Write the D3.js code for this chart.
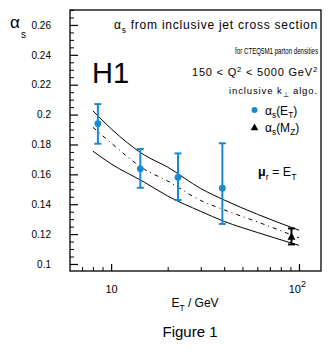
<!DOCTYPE html>
<html>
<head>
  <script src="https://d3js.org/d3.v7.min.js"></script>
  <style>
    body { margin: 0; background: #fff; }
    text { font-family: "Liberation Sans", Arial, sans-serif; fill: #000; }
  </style>
</head>
<body>
<script>
  var etValues = [8.5, 14.3, 22.7, 39.1];
  var alphaValues = [0.194, 0.1637, 0.158, 0.1507];
  var alphaLow = [0.1805, 0.151, 0.1428, 0.1268];
  var alphaHigh = [0.207, 0.177, 0.174, 0.1808];

  // alpha_s(M_Z): E, value, low, high
  var mzPoint = [91.2, 0.1178, 0.1131, 0.1238];

  // theory band: E_T grid, upper / central / lower curves
  var curveEt = [8, 10, 15, 20, 30, 40, 60, 100];
  var curveUpper = [0.2025, 0.1905, 0.173, 0.1648, 0.1505, 0.1428, 0.1333, 0.1226];
  var curveCentral = [0.1915, 0.181, 0.1635, 0.1555, 0.1425, 0.1362, 0.1282, 0.1175];
  var curveLower = [0.1755, 0.167, 0.1548, 0.1455, 0.1352, 0.1285, 0.1211, 0.1125];

  var yMajor = [0.1, 0.12, 0.14, 0.16, 0.18, 0.2, 0.22, 0.24, 0.26];
  var yMinor = d3.range(0.1, 0.2701, 0.005).filter(function(v) {
    return Math.abs(Math.round(v * 50) - v * 50) > 0.01;
  });
  var xMajor = [10, 100];
  var xMinor = [7, 8, 9, 20, 30, 40, 50, 60, 70, 80, 90];

  var blue = "#1a8ad0";
  var width = 331, height = 351;
  var pLeft = 70, pRight = 321, pTop = 10, pBottom = 271;

  var svg = d3.select("body").append("svg")
    .attr("width", width).attr("height", height);

  var x = d3.scaleLog().domain([6.04, 131]).range([pLeft, pRight]);
  var y = d3.scaleLinear().domain([0.0953, 0.27]).range([pBottom, pTop]);

  // axes: ticks inside the frame
  svg.append("g").attr("transform", "translate(" + pLeft + ",0)")
    .call(d3.axisLeft(y).tickValues(yMajor).tickSize(-8).tickPadding(19)
      .tickFormat(function(d) { return String(+d.toFixed(2)); }))
    .call(function(g) {
      g.select(".domain").remove();
      g.selectAll("text").attr("font-size", 10).attr("font-family", null);
      g.selectAll("line").attr("stroke-width", 1.2);
    });
  svg.append("g").attr("transform", "translate(" + pLeft + ",0)")
    .call(d3.axisLeft(y).tickValues(yMinor).tickSize(-4).tickFormat(""))
    .call(function(g) { g.select(".domain").remove(); });

  var xa = svg.append("g").attr("transform", "translate(0," + pBottom + ")")
    .call(d3.axisBottom(x).tickValues(xMajor).tickSize(-7).tickPadding(14)
      .tickFormat(function(d) { return "10"; }))
    .call(function(g) {
      g.select(".domain").remove();
      g.selectAll("text").attr("font-size", 11).attr("font-family", null);
      g.selectAll("line").attr("stroke-width", 1.2);
    });
  xa.selectAll("text").filter(function(d) { return d === 100; })
    .attr("dx", "-0.2em")
    .append("tspan").attr("dy", "-0.6em").attr("font-size", 9).text("2");
  svg.append("g").attr("transform", "translate(0," + pBottom + ")")
    .call(d3.axisBottom(x).tickValues(xMinor).tickSize(-4).tickFormat(""))
    .call(function(g) { g.select(".domain").remove(); });

  // frame
  svg.append("rect").attr("x", pLeft).attr("y", pTop)
    .attr("width", pRight - pLeft).attr("height", pBottom - pTop)
    .attr("fill", "none").attr("stroke", "#000").attr("stroke-width", 1.3);

  // theory curves
  var line = d3.line()
    .x(function(d) { return x(d[0]); })
    .y(function(d) { return y(d[1]); })
    .curve(d3.curveMonotoneX);
  [[curveUpper, null], [curveLower, null], [curveCentral, "4,4,1,4"]].forEach(function(c) {
    svg.append("path")
      .datum(curveEt.map(function(e, i) { return [e, c[0][i]]; }))
      .attr("d", line)
      .attr("fill", "none").attr("stroke", "#000").attr("stroke-width", 1)
      .attr("stroke-dasharray", c[1]);
  });

  // error bars helper
  function errorBar(g, xv, lo, hi, color) {
    g.append("line").attr("x1", x(xv)).attr("x2", x(xv))
      .attr("y1", y(lo)).attr("y2", y(hi))
      .attr("stroke", color).attr("stroke-width", 2);
    [lo, hi].forEach(function(v) {
      g.append("line").attr("x1", x(xv) - 3.5).attr("x2", x(xv) + 3.5)
        .attr("y1", y(v)).attr("y2", y(v))
        .attr("stroke", color).attr("stroke-width", 2);
    });
  }

  var pts = svg.append("g");
  etValues.forEach(function(e, i) {
    errorBar(pts, e, alphaLow[i], alphaHigh[i], blue);
    pts.append("circle").attr("cx", x(e)).attr("cy", y(alphaValues[i]))
      .attr("r", 3.4).attr("fill", blue);
  });
  errorBar(pts, mzPoint[0], mzPoint[2], mzPoint[3], "#000");
  pts.append("path").attr("d", d3.symbol(d3.symbolTriangle, 28)())
    .attr("transform", "translate(" + x(mzPoint[0]) + "," + y(mzPoint[1]) + ")");

  // text with sub/superscripts; segments: [text, "sub"|"sup"|null, weight]
  function rich(px, py, size, segs, anchor, fitWidth) {
    var t = svg.append("text").attr("x", px).attr("y", py)
      .attr("font-size", size).attr("text-anchor", anchor || "start");
    var shift = 0;
    segs.forEach(function(s) {
      var ts = t.append("tspan").text(s[0]);
      var target = s[1] === "sub" ? 0.3 * size : s[1] === "sup" ? -0.4 * size : 0;
      if (target !== shift) ts.attr("dy", target - shift);
      if (s[1]) ts.attr("font-size", size * 0.7);
      if (s[2]) ts.attr("font-weight", s[2]);
      shift = target;
    });
    if (fitWidth) {
      var w = t.node().getBBox().width;
      if (fitWidth < w) {
        t.attr("transform", "translate(" + px + ",0) scale(" + (fitWidth / w) + ",1) translate(" + (-px) + ",0)");
      } else {
        t.attr("letter-spacing", ((fitWidth - w) / t.text().length) + "px");
      }
    }
    return t;
  }

  rich(318, 29, 12, [["α"], ["s", "sub"], [" from inclusive jet cross section"]], "end", 204);
  rich(318, 54, 8.5, [["for CTEQ5M1 parton densities"]], "end", 83);
  rich(318, 76, 11, [["150 < Q"], ["2", "sup"], [" < 5000 GeV"], ["2", "sup"]], "end", 126);
  rich(318, 94, 9.5, [["inclusive k"], ["⊥", "sub"], [" algo."]], "end", 89);

  svg.append("circle").attr("cx", 254.5).attr("cy", 110).attr("r", 3).attr("fill", blue);
  rich(265, 114.5, 12, [["α"], ["s", "sub"], ["(E"], ["T", "sub"], [")"]], "start");
  svg.append("path").attr("d", d3.symbol(d3.symbolTriangle, 26)())
    .attr("transform", "translate(254.5,128)");
  rich(265, 131.5, 12, [["α"], ["s", "sub"], ["(M"], ["Z", "sub"], [")"]], "start");

  rich(258, 176, 12.5, [["μ", null, "bold"], ["r", "sub"], [" = E"], ["T", "sub"]], "start");

  svg.append("text").attr("x", 92).attr("y", 83).attr("font-size", 29).text("H1");

  // axis titles
  rich(10, 28, 17, [["α"]]);
  rich(21, 38, 10, [["s"]]);
  rich(195, 307, 12, [["E"], ["T", "sub"], [" / GeV"]], "middle");
  svg.append("text").attr("x", 190).attr("y", 337).attr("font-size", 15)
    .attr("text-anchor", "middle").text("Figure 1");
</script>
</body>
</html>
